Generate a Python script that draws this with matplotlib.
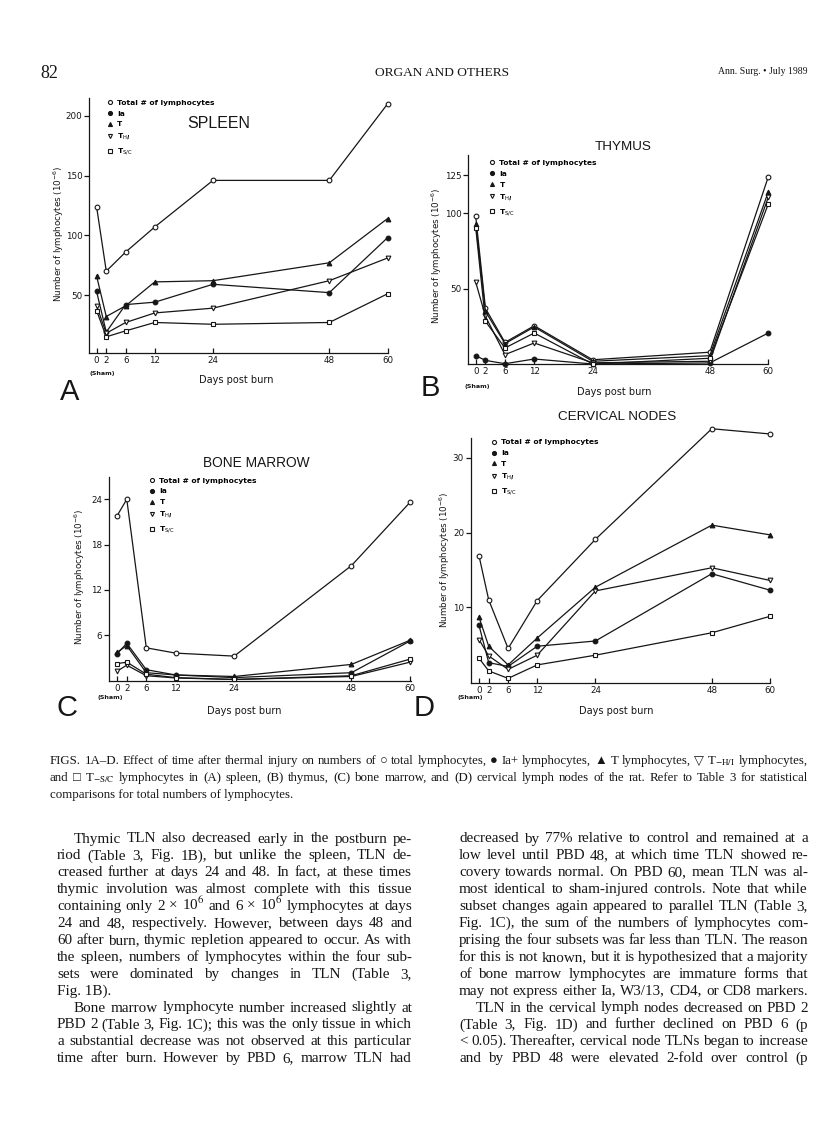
import matplotlib
matplotlib.use("Agg")
import matplotlib.pyplot as plt
from matplotlib.lines import Line2D

W, H = 816, 1134
ink = "#161616"

days = [0, 2, 6, 12, 24, 48, 60]
day_labels = ["0", "2", "6", "12", "24", "48", "60"]

# (A) spleen
spleen_total = [124, 70, 86, 107, 146, 146, 210]
spleen_ia = [53, 19, 42, 44, 59, 52, 98]
spleen_t = [66, 32, 41, 61, 62, 77, 114]
spleen_th = [41, 18, 27, 35, 39, 62, 81]
spleen_ts = [37, 15, 20, 27, 25.5, 27, 51]

# (B) thymus
thymus_total = [98, 37, 14.5, 25.5, 3, 8, 124]
thymus_ia = [5.7, 2.6, 0.4, 3.5, 0.2, 0.9, 20.7]
thymus_t = [93, 35, 13.7, 24.7, 2, 5.7, 114]
thymus_th = [54.4, 31.7, 6.4, 14.1, 1, 2, 110.5]
thymus_ts = [90.5, 28.4, 10.8, 20.7, 0.2, 4, 106]

# (C) bone marrow
marrow_total = [21.8, 24, 4.3, 3.6, 3.2, 15.2, 23.6]
marrow_ia = [3.5, 4.9, 1.4, 0.7, 0.35, 1.0, 5.2]
marrow_t = [3.7, 4.6, 1.0, 0.7, 0.5, 2.1, 5.3]
marrow_th = [1.2, 2.0, 0.6, 0.3, 0.1, 0.5, 2.4]
marrow_ts = [2.2, 2.4, 0.8, 0.35, 0.1, 0.6, 2.8]

# (D) cervical nodes
cerv_total = [16.9, 11, 4.5, 10.9, 19.1, 33.9, 33.2]
cerv_ia = [7.6, 2.6, 2.1, 4.8, 5.5, 14.5, 12.3]
cerv_t = [8.7, 4.8, 2.3, 5.9, 12.7, 21, 19.7]
cerv_th = [5.7, 3.5, 1.7, 3.6, 12.2, 15.3, 13.6]
cerv_ts = [3.2, 1.5, 0.5, 2.3, 3.6, 6.6, 8.8]

legend_labels = ["Total # of lymphocytes", "Ia", "T",
                 r"T$_{\mathrm{H/I}}$", r"T$_{\mathrm{S/C}}$"]
marker_styles = [("o", "white"), ("o", ink), ("^", ink), ("v", "white"), ("s", "white")]

fig = plt.figure(figsize=(W / 100, H / 100), dpi=100)
fig.patch.set_facecolor("white")


def fx(x):
    return x / W


def fy(y):
    return 1 - y / H


def panel(box, xlim, ylim, yticks, series, title, title_xy, title_size, leg_xy,
          ylab_xy, sham_xy, xlab_xy, letter, letter_xy):
    left, top, right, bottom = box
    ax = fig.add_axes([fx(left), fy(bottom), (right - left) / W, (bottom - top) / H])
    for vals, (m, fc) in zip(series, marker_styles):
        ax.plot(days, vals, "-", color=ink, lw=0.9, marker=m, mfc=fc, mec=ink,
                mew=0.8, ms=3.4, clip_on=False, zorder=3)
    ax.set_xlim(*xlim)
    ax.set_ylim(*ylim)
    ax.set_xticks(days)
    ax.set_xticklabels(day_labels)
    ax.set_yticks(yticks)
    ax.set_yticklabels([str(v) for v in yticks])
    for s in ["top", "right"]:
        ax.spines[s].set_visible(False)
    for s in ["left", "bottom"]:
        ax.spines[s].set_linewidth(0.9)
        ax.spines[s].set_color(ink)
    ax.tick_params(axis="x", direction="in", length=3.5, width=0.9, labelsize=6.3,
                   pad=2.2, colors=ink)
    ax.tick_params(axis="y", direction="out", length=3.5, width=0.9, labelsize=6.3,
                   pad=1.5, colors=ink)
    ax.patch.set_alpha(0)

    handles = [Line2D([], [], ls="none", marker=m, mfc=fc, mec=ink, mew=0.8, ms=2.9)
               for m, fc in marker_styles]
    ax.legend(handles, legend_labels, loc="upper left",
              bbox_to_anchor=(fx(leg_xy[0]), fy(leg_xy[1])), bbox_transform=fig.transFigure,
              frameon=False, borderpad=0, borderaxespad=0, handlelength=0.8,
              handletextpad=0.6, labelspacing=0.6,
              prop={"size": 5.4, "weight": "bold"})

    fig.text(fx(title_xy[0]), fy(title_xy[1]), title, fontsize=title_size,
             family="Liberation Sans", ha="center", va="center", color=ink)
    fig.text(fx(ylab_xy[0]), fy(ylab_xy[1]), r"Number of lymphocytes (10$^{-6}$)",
             rotation=90, fontsize=6.3, ha="center", va="center", color=ink)
    fig.text(fx(sham_xy[0]), fy(sham_xy[1]), "(Sham)", fontsize=4.6, weight="bold",
             ha="center", va="center", color=ink)
    fig.text(fx(xlab_xy[0]), fy(xlab_xy[1]), "Days post burn", fontsize=7,
             ha="center", va="center", color=ink)
    fig.text(fx(letter_xy[0]), fy(letter_xy[1]), letter, fontsize=21,
             family="Liberation Sans", ha="left", va="baseline", color=ink)
    return ax


panel((89.3, 98, 388, 352.7), (-1.5, 60.1), (1.7, 215), [50, 100, 150, 200],
      [spleen_total, spleen_ia, spleen_t, spleen_th, spleen_ts],
      "SPLEEN", (218.5, 123), 11.5, (106.5, 99.5), (58.3, 234), (102, 373),
      (236, 380), "A", (60, 400))

panel((468.3, 155, 768.5, 364.3), (-1.52, 60.05), (0, 138.5), [50, 100, 125],
      [thymus_total, thymus_ia, thymus_t, thymus_th, thymus_ts],
      "THYMUS", (623, 147), 9.7, (488.9, 159.8), (436.7, 256), (477.5, 386.7),
      (614, 391.7), "B", (421, 396))

panel((109, 476.7, 410.5, 681), (-1.64, 60.1), (-0.1, 27), [6, 12, 18, 24],
      [marrow_total, marrow_ia, marrow_t, marrow_th, marrow_ts],
      "BONE MARROW", (256.7, 462.7), 9.9, (148.9, 477.5), (80, 577), (110, 697),
      (244, 711), "C", (57, 716))

panel((471, 437.7, 770.3, 683.3), (-1.65, 60.06), (-0.16, 32.7), [10, 20, 30],
      [cerv_total, cerv_ia, cerv_t, cerv_th, cerv_ts],
      "CERVICAL NODES", (617.5, 416.7), 9.7, (490.5, 439.2), (445, 560), (470, 697),
      (616, 711), "D", (414, 716))

# running head
fig.text(fx(40), fy(78), "82", fontsize=13, family="Liberation Serif", color=ink)
fig.text(fx(442), fy(76), "ORGAN AND OTHERS", fontsize=9.6, family="Liberation Serif",
         ha="center", color=ink)
fig.text(fx(808), fy(74), "Ann. Surg. \u2022 July 1989", fontsize=7, family="Liberation Serif",
         ha="right", color=ink)

renderer = fig.canvas.get_renderer()
serif = ["Liberation Serif", "DejaVu Sans"]


def text_line(x0, x1, y, s, size, justify=True):
    words = s.split(" ")
    kw = dict(va="baseline", ha="left", family=serif, math_fontfamily="stix", color=ink)
    if not justify or len(words) < 2:
        fig.text(fx(x0), fy(y), s, fontsize=size, **kw)
        return
    arts = [fig.text(0, fy(y), w, fontsize=size, **kw) for w in words]
    widths = [a.get_window_extent(renderer).width for a in arts]
    min_gap = 0.18 * size * 100 / 72
    natural = sum(widths) + min_gap * (len(words) - 1)
    if natural > x1 - x0:
        k = (x1 - x0) / natural
        for a in arts:
            a.set_fontsize(size * k)
        widths = [a.get_window_extent(renderer).width for a in arts]
    gap = (x1 - x0 - sum(widths)) / (len(words) - 1)
    x = x0
    for a, wd in zip(arts, widths):
        a.set_x(fx(x))
        x += wd + gap


caption = [
    ("FIGS. 1A\u2013D. Effect of time after thermal injury on numbers of \u25cb total lymphocytes, "
     "\u25cf Ia+ lymphocytes, \u25b2 T lymphocytes, \u25bd T$_{\\mathrm{-H/I}}$ lymphocytes,", True),
    ("and \u25a1 T$_{\\mathrm{-S/C}}$ lymphocytes in (A) spleen, (B) thymus, (C) bone marrow, and (D) "
     "cervical lymph nodes of the rat. Refer to Table 3 for statistical", True),
    ("comparisons for total numbers of lymphocytes.", False),
]
for i, (s, j) in enumerate(caption):
    text_line(50, 808, 764 + 17 * i, s, 9.3, j)

left_col = [
    ("Thymic TLN also decreased early in the postburn pe-", True, True),
    ("riod (Table 3, Fig. 1B), but unlike the spleen, TLN de-", True, False),
    ("creased further at days 24 and 48. In fact, at these times", True, False),
    ("thymic involution was almost complete with this tissue", True, False),
    ("containing only 2 \u00d7 10$^6$ and 6 \u00d7 10$^6$ lymphocytes at days", True, False),
    ("24 and 48, respectively. However, between days 48 and", True, False),
    ("60 after burn, thymic repletion appeared to occur. As with", True, False),
    ("the spleen, numbers of lymphocytes within the four sub-", True, False),
    ("sets were dominated by changes in TLN (Table 3,", True, False),
    ("Fig. 1B).", False, False),
    ("Bone marrow lymphocyte number increased slightly at", True, True),
    ("PBD 2 (Table 3, Fig. 1C); this was the only tissue in which", True, False),
    ("a substantial decrease was not observed at this particular", True, False),
    ("time after burn. However by PBD 6, marrow TLN had", True, False),
]
right_col = [
    ("decreased by 77% relative to control and remained at a", True, False),
    ("low level until PBD 48, at which time TLN showed re-", True, False),
    ("covery towards normal. On PBD 60, mean TLN was al-", True, False),
    ("most identical to sham-injured controls. Note that while", True, False),
    ("subset changes again appeared to parallel TLN (Table 3,", True, False),
    ("Fig. 1C), the sum of the numbers of lymphocytes com-", True, False),
    ("prising the four subsets was far less than TLN. The reason", True, False),
    ("for this is not known, but it is hypothesized that a majority", True, False),
    ("of bone marrow lymphocytes are immature forms that", True, False),
    ("may not express either Ia, W3/13, CD4, or CD8 markers.", True, False),
    ("TLN in the cervical lymph nodes decreased on PBD 2", True, True),
    ("(Table 3, Fig. 1D) and further declined on PBD 6 (p", True, False),
    ("< 0.05). Thereafter, cervical node TLNs began to increase", True, False),
    ("and by PBD 48 were elevated 2-fold over control (p", True, False),
]
for i, (s, j, indent) in enumerate(left_col):
    text_line(57 + (17 if indent else 0), 412, 842.5 + 16.9 * i, s, 10.9, j)
for i, (s, j, indent) in enumerate(right_col):
    text_line(459 + (17 if indent else 0), 808, 842.5 + 16.9 * i, s, 10.9, j)

fig.savefig("out.png", dpi=100, facecolor="white")
